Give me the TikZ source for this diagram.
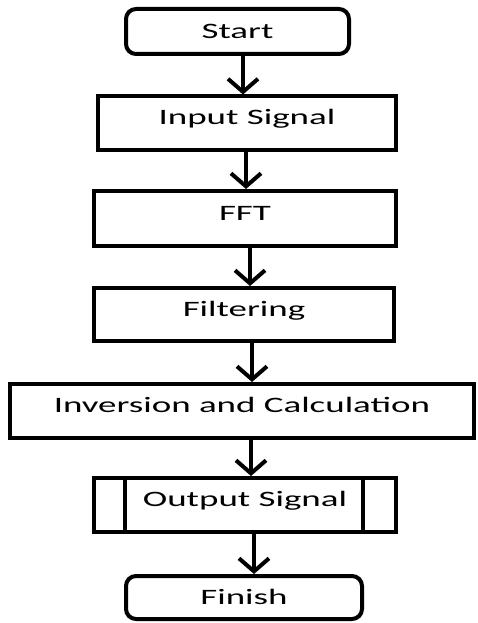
\documentclass[tikz,border=0pt]{standalone}
\usepackage{fontspec}
\newfontfamily\boxfont[FakeStretch=1.68]{Carlito}
\usetikzlibrary{arrows.meta}

\tikzset{
  box/.style={draw=black, line width=4pt, fill=white, inner sep=0pt,
    font=\boxfont\fontsize{22pt}{24pt}\selectfont, text=black,
    text height=14pt, text depth=11pt},
  terminal/.style={box, rounded corners=10pt, text depth=0pt},
  arr/.style={draw=black, line width=4pt,
    -{Straight Barb[length=13pt, width=30pt, line width=4pt]}},
}

\begin{document}
\begin{tikzpicture}[x=1pt, y=-1pt]
  \useasboundingbox (0,0) rectangle (477,623);

  % flowchart steps, top to bottom
  \node[terminal, minimum width=223pt, minimum height=45pt] (start)  at (237.5, 31.5) {Start};
  \node[box, minimum width=298pt, minimum height=53pt]      (input)  at (247, 123)    {Input Signal};
  \node[box, minimum width=302pt, minimum height=55pt]      (fft)    at (245, 218.5)  {FFT};
  \node[box, minimum width=300pt, minimum height=53pt]      (filt)   at (244, 314.5)  {Filtering};
  \node[box, minimum width=464pt, minimum height=54pt]      (inv)    at (242, 411)    {Inversion and Calculation};
  \node[box, minimum width=302pt, minimum height=54pt]      (out)    at (245, 505)    {Output Signal};
  \node[terminal, minimum width=236pt, minimum height=43pt] (finish) at (244, 597.5)  {Finish};

  % predefined-process bars inside the output box
  \draw[line width=4pt] ([xshift=33pt]out.north west) -- ([xshift=33pt]out.south west);
  \draw[line width=4pt] ([xshift=-35pt]out.north east) -- ([xshift=-35pt]out.south east);

  % connectors
  \draw[arr] ([xshift=5.5pt]start.south) -- ([xshift=-4pt]input.north);
  \draw[arr] ([xshift=-1pt]input.south)  -- ([xshift=1pt]fft.north);
  \draw[arr] ([xshift=5pt]fft.south)     -- ([xshift=6pt]filt.north);
  \draw[arr] ([xshift=8pt]filt.south)    -- ([xshift=10pt]inv.north);
  \draw[arr] ([xshift=9pt]inv.south)     -- ([xshift=6pt]out.north);
  \draw[arr] ([xshift=9pt]out.south)     -- ([xshift=10pt]finish.north);
\end{tikzpicture}
\end{document}
